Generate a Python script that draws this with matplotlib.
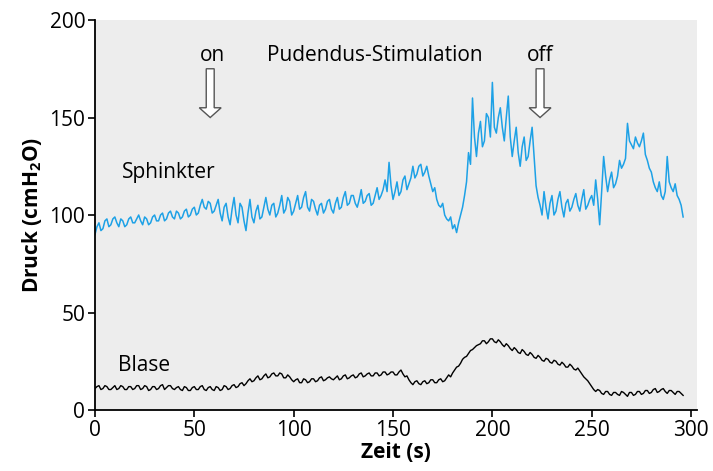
import numpy as np
import matplotlib
matplotlib.use('Agg')
import matplotlib.pyplot as plt
from matplotlib import rc, rcParams

rc('font', family='Open Sans')
rcParams['mathtext.fontset'] = 'custom'
rcParams['mathtext.rm'] = 'Open Sans'
rcParams['mathtext.bf'] = 'Open Sans:bold'

# sample times (s): even and odd seconds
zeit_even = list(range(0, 298, 2))
zeit_odd = list(range(1, 297, 2))

# Sphinkter pressure (cmH2O) at even seconds
sphinkter_even = [
	90, 96, 93, 98, 95, 99, 94, 97, 95, 99,
	96, 100, 95, 98, 96, 100, 97, 101, 98, 102,
	98, 101, 99, 103, 100, 104, 101, 108, 103, 106,
	102, 108, 97, 106, 95, 109, 96, 104, 92, 108,
	96, 105, 99, 109, 100, 106, 101, 110, 103, 107,
	102, 110, 104, 112, 102, 107, 100, 106, 103, 108,
	101, 109, 104, 112, 106, 110, 104, 113, 107, 111,
	106, 114, 110, 118, 127, 108, 117, 112, 120, 116,
	125, 121, 126, 122, 120, 112, 108, 104, 100, 97,
	93, 91, 100, 110, 132, 160, 130, 148, 138, 150,
	168, 142, 155, 138, 161, 130, 145, 125, 140, 130,
	145, 115, 105, 112, 98, 110, 102, 112, 99, 108,
	104, 111, 102, 113, 105, 110, 118, 95, 130, 112,
	122, 116, 128, 126, 147, 136, 140, 135, 142, 128,
	122, 114, 117, 108, 130, 114, 116, 108, 99,
]
# ... and at odd seconds
sphinkter_odd = [
	94, 92, 97, 94, 98, 96, 98, 94, 98, 96,
	98, 97, 99, 95, 99, 97, 100, 97, 101, 99,
	102, 98, 102, 99, 103, 100, 105, 104, 107, 101,
	105, 101, 104, 99, 103, 100, 106, 97, 101, 99,
	102, 98, 104, 103, 105, 99, 105, 101, 109, 100,
	106, 103, 109, 104, 108, 103, 105, 101, 107, 103,
	106, 103, 109, 105, 110, 106, 108, 106, 110, 105,
	110, 108, 113, 112, 115, 112, 110, 118, 113, 119,
	119, 125, 120, 125, 116, 114, 105, 106, 98, 99,
	95, 96, 104, 117, 126, 140, 142, 135, 152, 140,
	145, 150, 145, 150, 140, 138, 132, 135, 128, 138,
	130, 109, 100, 104, 106, 100, 108, 104, 106, 102,
	108, 105, 108, 103, 108, 105, 108, 112, 120, 118,
	114, 120, 124, 129, 138, 134, 137, 138, 131, 124,
	117, 112, 110, 112, 117, 112, 110, 105,
]

# Blase pressure (cmH2O), even seconds
blase_even = [
	11, 12.5, 11, 12, 10.5, 12.5, 11, 12, 10.5, 12,
	11, 12.5, 11, 12, 10.5, 12, 11, 13, 11.5, 12.5,
	10.5, 12, 10, 11.5, 10, 12, 10.5, 12.5, 10, 12,
	10, 11.5, 10.5, 12, 11, 13, 12, 14, 13.5, 16,
	15, 17.5, 16, 18.5, 17, 19, 17.5, 18.5, 16.5, 17,
	14.5, 16, 14, 15.5, 14.5, 16, 15, 17, 15.5, 17,
	15.5, 17.5, 16, 18, 16.5, 18, 17, 19, 17.5, 19,
	17.5, 19, 18, 19.5, 18.5, 19.5, 18, 20.5, 17, 15.5,
	13, 15, 13, 15, 14, 15.5, 14, 16, 15, 18,
	19, 22, 24, 27, 29, 31, 33, 34, 35.5, 35,
	36.5, 34.5, 35, 32.5, 33, 30.5, 31, 29, 30, 28,
	28.5, 26.5, 27, 25, 26, 24, 25, 23, 23.5, 22,
	22.5, 20.5, 20, 17, 15, 12, 9.5, 10, 8, 9.5,
	7.5, 9, 7.5, 9, 7, 9, 8, 9.5, 8.5, 10,
	9, 11, 9.5, 11, 8.5, 10, 8, 9.5, 7.5,
]
# Blase, odd seconds
blase_odd = [
	12, 10.5, 12.5, 10.5, 11.5, 10.5, 12.5, 10.5, 12, 10.5,
	12.5, 10.5, 12.5, 10, 12, 10.5, 12.5, 10.5, 12.5, 11,
	11.5, 10.5, 12, 10, 11.5, 10.5, 12, 10.5, 11.5, 10.5,
	12, 10, 12.5, 10.5, 12.5, 11.5, 13.5, 12.5, 15, 14.5,
	16.5, 15.5, 17.5, 16.5, 18.5, 17.5, 19, 16.5, 18, 15.5,
	15.5, 14, 16, 14, 16, 14.5, 16.5, 15, 16.5, 16,
	16.5, 15.5, 17.5, 16, 17.5, 16.5, 18.5, 17, 18.5, 17.5,
	19, 17.5, 19.5, 18, 19.5, 18, 19.5, 18.5, 17.5, 14,
	14.5, 13.5, 14.5, 13.5, 15.5, 14, 15.5, 14.5, 16.5, 17,
	20.5, 22.5, 26, 27.5, 30.5, 32, 33.5, 35.5, 34, 36.5,
	35, 36, 33.5, 34, 31.5, 32, 29.5, 31, 28.5, 29.5,
	27, 28, 25.5, 26.5, 24.5, 25.5, 23.5, 24.5, 22, 23.5,
	21, 21.5, 18.5, 16, 13.5, 10.5, 10.5, 8.5, 9.5, 8,
	9, 8, 9.5, 8, 9, 7.5, 9.5, 8, 10, 8.5,
	10.5, 9, 10.5, 9.5, 10, 9, 9.5, 8.5,
]

x_ticks = [0, 50, 100, 150, 200, 250, 300]
y_ticks = [0, 50, 100, 150, 200]

stim_on = 58
stim_off = 224


def merge(even, odd):
	# interleave the even- and odd-second samples
	out = []
	for i in range(len(even)):
		out.append(even[i])
		if i < len(odd):
			out.append(odd[i])
	return out


def hollow_arrow(ax, x, y_top, y_tip):
	ax.arrow(x, y_top, 0, y_tip - y_top, width=4, head_width=11, head_length=5,
		length_includes_head=True, fc='white', ec='#555555', lw=1.0, zorder=3)


def main():
	zeit = merge(zeit_even, zeit_odd)
	sphinkter = merge(sphinkter_even, sphinkter_odd)
	blase = merge(blase_even, blase_odd)

	fig = plt.figure(figsize=(7.13, 4.71), dpi=100)
	ax = fig.add_axes([0.1332, 0.1295, 0.8444, 0.8280])
	ax.set_facecolor('#EDEDED')

	ax.plot(zeit, sphinkter, color='#1DA1E6', lw=1.1)
	ax.plot(zeit, blase, color='black', lw=1.0)

	ax.set_xlim(0, 303)
	ax.set_ylim(0, 200)
	ax.set_xticks(x_ticks)
	ax.set_yticks(y_ticks)
	ax.spines['right'].set_visible(False)
	ax.spines['top'].set_visible(False)
	ax.spines['left'].set_linewidth(1.3)
	ax.spines['bottom'].set_linewidth(1.3)
	ax.tick_params(direction='out', length=5, width=1.2, labelsize=15, pad=2)

	ax.set_xlabel('Zeit (s)', fontsize=15, fontweight='bold', labelpad=1)
	ax.set_ylabel(r'Druck (cmH$_\mathbf{2}$O)', fontsize=15, fontweight='bold', labelpad=4)

	ax.text(stim_on + 1, 182, 'on', fontsize=15, ha='center', va='center')
	ax.text(141, 182, 'Pudendus-Stimulation', fontsize=15, ha='center', va='center')
	ax.text(stim_off, 182, 'off', fontsize=15, ha='center', va='center')
	hollow_arrow(ax, stim_on, 175, 150)
	hollow_arrow(ax, stim_off, 175, 150)

	ax.text(13.5, 122, 'Sphinkter', fontsize=15, ha='left', va='center')
	ax.text(11.5, 23, 'Blase', fontsize=15, ha='left', va='center')

	plt.savefig('out.png', dpi=100)


if __name__ == "__main__":
	main()
